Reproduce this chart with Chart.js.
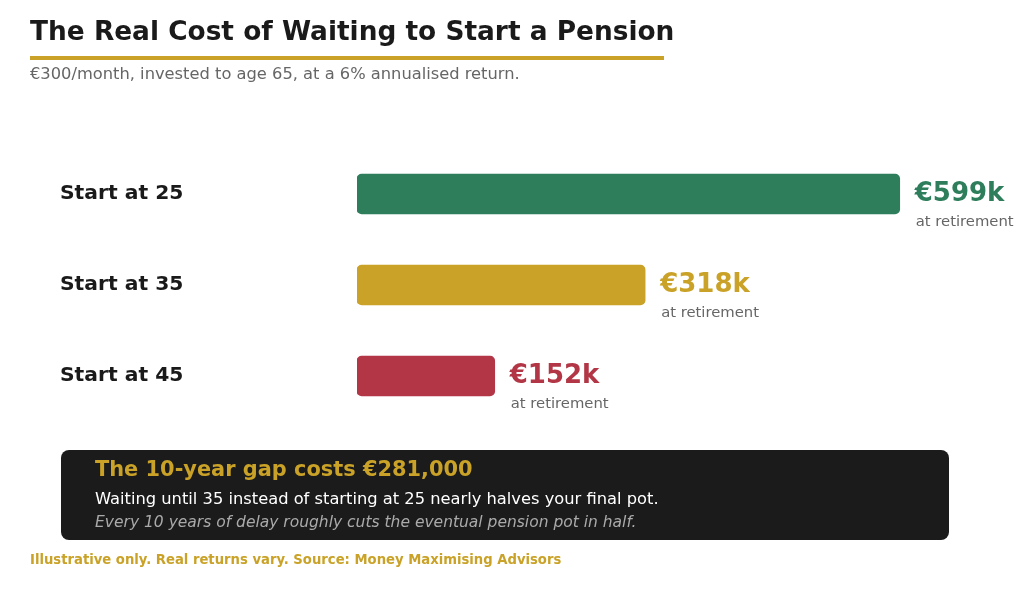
<!DOCTYPE html>
<html>
<head>
<meta charset="utf-8">
<title>The Real Cost of Waiting to Start a Pension</title>
<script src="https://cdn.jsdelivr.net/npm/chart.js@4/dist/chart.umd.min.js"></script>
<style>
  html, body { margin: 0; padding: 0; background: #fff; }
  #chart { display: block; }
</style>
</head>
<body>
<canvas id="chart" width="1024" height="592"></canvas>
<script>
// pension pot at 65, in thousands of euros
const startAges = ["Start at 25", "Start at 35", "Start at 45"];
const potValues = [599, 318, 152];
const barColors = ["#2E7D5B", "#C9A227", "#B23645"];

const FONT = '"DejaVu Sans", Verdana, sans-serif';
const GOLD = "#C9A227";

// titles, row labels, value labels and the callout box
const decorations = {
  id: "decorations",
  afterDatasetsDraw(chart) {
    const ctx = chart.ctx;
    const meta = chart.getDatasetMeta(0);
    ctx.save();
    ctx.textBaseline = "alphabetic";
    ctx.textAlign = "left";

    ctx.fillStyle = "#1a1a1a";
    ctx.font = "bold 26.4px " + FONT;
    ctx.fillText("The Real Cost of Waiting to Start a Pension", 30, 40);

    ctx.fillStyle = GOLD;
    ctx.fillRect(30, 56, 634, 4);

    ctx.fillStyle = "#666";
    ctx.font = "16.3px " + FONT;
    ctx.fillText("€300/month, invested to age 65, at a 6% annualised return.", 30, 79);

    meta.data.forEach((bar, i) => {
      ctx.textBaseline = "middle";
      ctx.fillStyle = "#1a1a1a";
      ctx.font = "bold 20.3px " + FONT;
      ctx.fillText(startAges[i], 60, bar.y);

      ctx.fillStyle = barColors[i];
      ctx.font = "bold 26px " + FONT;
      ctx.fillText("€" + potValues[i] + "k", bar.x + 15, bar.y);

      ctx.textBaseline = "alphabetic";
      ctx.fillStyle = "#666";
      ctx.font = "14.8px " + FONT;
      ctx.fillText("at retirement", bar.x + 16, bar.y + 32);
    });

    // callout
    ctx.fillStyle = "#1b1b1b";
    ctx.beginPath();
    ctx.roundRect(61, 450, 888, 90, 8);
    ctx.fill();

    const gap = (potValues[0] - potValues[1]) * 1000;
    ctx.fillStyle = GOLD;
    ctx.font = "bold 20.9px " + FONT;
    ctx.fillText("The 10-year gap costs €" + gap.toLocaleString("en-US"), 95, 476);

    ctx.fillStyle = "#fff";
    ctx.font = "16.3px " + FONT;
    ctx.fillText("Waiting until 35 instead of starting at 25 nearly halves your final pot.", 95, 504);

    ctx.fillStyle = "#aaa";
    ctx.font = "italic 15.5px " + FONT;
    ctx.fillText("Every 10 years of delay roughly cuts the eventual pension pot in half.", 95, 527);

    ctx.fillStyle = GOLD;
    ctx.font = "bold 13.2px " + FONT;
    ctx.fillText("Illustrative only. Real returns vary. Source: Money Maximising Advisors", 30, 564);

    ctx.restore();
  }
};

new Chart(document.getElementById("chart"), {
  type: "bar",
  data: {
    labels: startAges,
    datasets: [{
      data: potValues,
      backgroundColor: barColors,
      borderRadius: 5,
      borderSkipped: false,
      barThickness: 40
    }]
  },
  options: {
    indexAxis: "y",
    responsive: false,
    devicePixelRatio: 1,
    animation: false,
    layout: { padding: { left: 357, right: 69, top: 148.5, bottom: 170.5 } },
    scales: {
      x: { display: false, min: 0, max: 660, grid: { display: false } },
      y: { display: false, grid: { display: false } }
    },
    plugins: {
      legend: { display: false },
      tooltip: { enabled: false }
    }
  },
  plugins: [decorations]
});
</script>
</body>
</html>
